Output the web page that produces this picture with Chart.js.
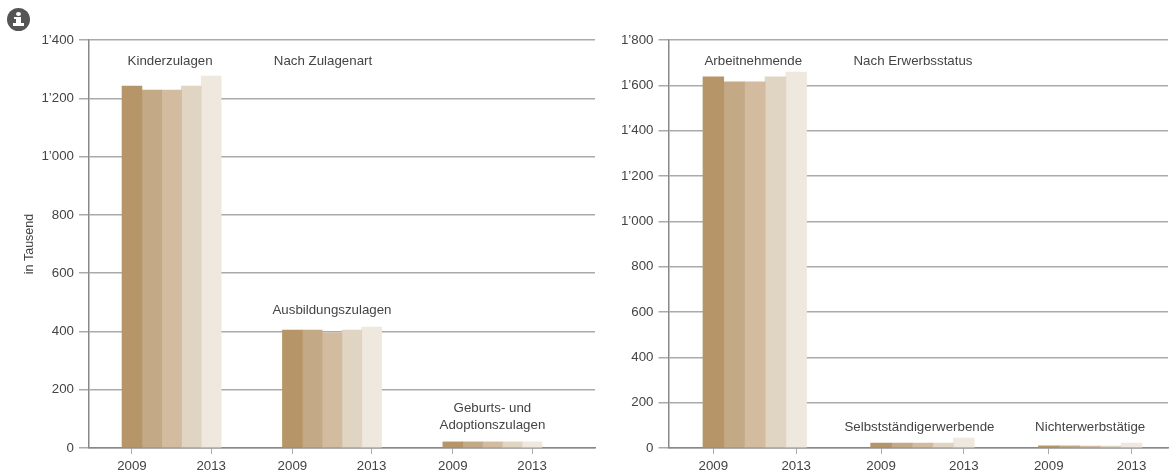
<!DOCTYPE html>
<html>
<head>
<meta charset="utf-8">
<style>
    html, body { margin: 0; padding: 0; background: #fff; }
    #page { position: relative; width: 1170px; height: 475px; overflow: hidden; }
    canvas { position: absolute; top: 0; }
    #info { position: absolute; left: 7px; top: 8px; width: 23px; height: 23px; border-radius: 50%; background: #555; }
    #info i { position: absolute; background: #fff; display: block; }
</style>
<script src="https://cdn.jsdelivr.net/npm/chart.js"></script>
</head>
<body>
<div id="page">
    <div id="info">
        <i style="left:9px;top:4px;width:5px;height:4px;border-radius:50%"></i>
        <i style="left:7px;top:9px;width:6px;height:2px"></i>
        <i style="left:9px;top:9px;width:5px;height:7px"></i>
        <i style="left:6px;top:15px;width:11px;height:3px"></i>
    </div>
    <canvas id="left" width="600" height="475" style="left:0"></canvas>
    <canvas id="right" width="570" height="475" style="left:600px"></canvas>
</div>
<script>
const years = ['2009', '2010', '2011', '2012', '2013'];
const tickYears = ['2009', '2013'];
const yearColors = ['#b69569', '#c3a985', '#d3bb9f', '#e0d4c2', '#efe8de'];

// Nach Zulagenart, in Tausend
const kinderzulagen = [1242, 1228, 1228, 1242, 1276];
const ausbildungszulagen = [405, 405, 395, 405, 415];
const geburtsAdoption = [21, 21, 21, 21, 21];

// Nach Erwerbsstatus, in Tausend
const arbeitnehmende = [1637, 1615, 1615, 1637, 1659];
const selbststaendige = [22, 22, 22, 22, 44];
const nichterwerbstaetige = [10, 10, 9, 9, 22];

const zulagenLabels = [['Kinderzulagen'], ['Ausbildungszulagen'], ['Geburts- und', 'Adoptionszulagen']];
const statusLabels = [['Arbeitnehmende'], ['Selbstständigerwerbende'], ['Nichterwerbstätige']];

const FONT = '"Liberation Sans", sans-serif';
const TEXT_COLOR = '#444';
const GROUP_STEP = 8.1; // 5 bars + gap, in bar widths

// draws the group captions and the "Nach ..." note
const captionPlugin = {
    id: 'captions',
    afterDraw(chart, args, opts) {
        const ctx = chart.ctx;
        const xs = chart.scales.x;
        ctx.save();
        ctx.font = '13.3px ' + FONT;
        ctx.fillStyle = TEXT_COLOR;
        ctx.textAlign = 'center';
        ctx.textBaseline = 'middle';
        opts.groups.forEach((lines, g) => {
            const cx = xs.getPixelForValue(g * GROUP_STEP + 2) + opts.shifts[g];
            lines.forEach((line, i) => {
                ctx.fillText(line, cx, opts.baselines[g] + i * 17);
            });
        });
        ctx.fillText(opts.note, opts.noteX, 61);
        ctx.restore();
    }
};

function makeChart(id, groups, cfg) {
    const datasets = years.map((year, y) => ({
        label: year,
        backgroundColor: yearColors[y],
        barThickness: cfg.barWidth,
        grouped: false,
        data: groups.map((values, g) => ({ x: g * GROUP_STEP + y, y: values[y] }))
    }));

    return new Chart(document.getElementById(id), {
        type: 'bar',
        data: { datasets: datasets },
        plugins: [captionPlugin],
        options: {
            responsive: false,
            animation: false,
            layout: { padding: { top: 40, right: cfg.paddingRight, left: 0, bottom: 0 } },
            scales: {
                x: {
                    type: 'linear',
                    offset: false,
                    min: cfg.xMin,
                    max: cfg.xMax,
                    afterBuildTicks(scale) {
                        const ticks = [];
                        groups.forEach((values, g) => {
                            ticks.push({ value: g * GROUP_STEP, label: tickYears[0] });
                            ticks.push({ value: g * GROUP_STEP + 4, label: tickYears[1] });
                        });
                        scale.ticks = ticks;
                    },
                    afterFit(scale) { scale.height = 27; },
                    grid: { offset: false, drawOnChartArea: false, drawTicks: true, tickLength: 6, color: '#aaa' },
                    border: { color: '#888', width: 1.5 },
                    ticks: {
                        autoSkip: false,
                        maxRotation: 0,
                        padding: 4,
                        color: TEXT_COLOR,
                        font: { family: FONT, size: 13.3 },
                        callback(value, index) {
                            return tickYears[index % 2];
                        }
                    }
                },
                y: {
                    min: 0,
                    max: cfg.yMax,
                    afterFit(scale) { scale.width = cfg.axisLeft; },
                    title: {
                        display: cfg.showTitle,
                        text: 'in Tausend',
                        color: TEXT_COLOR,
                        font: { family: FONT, size: 12.5 },
                        padding: { top: 22, bottom: 0 }
                    },
                    grid: { color: '#aaa', lineWidth: 1.5, tickLength: 10 },
                    border: { color: '#888', width: 1.5 },
                    ticks: {
                        stepSize: 200,
                        padding: 5,
                        color: TEXT_COLOR,
                        font: { family: FONT, size: 13.3 },
                        callback(value) {
                            return value >= 1000 ? Math.floor(value / 1000) + '’' + String(value % 1000).padStart(3, '0') : String(value);
                        }
                    }
                }
            },
            plugins: {
                legend: { display: false },
                tooltip: { enabled: false },
                captions: cfg.captions
            }
        }
    });
}

makeChart('left', [kinderzulagen, ausbildungszulagen, geburtsAdoption], {
    axisLeft: 89, paddingRight: 5,
    xMin: -2.17, xMax: 23.38, yMax: 1400, barWidth: 19.9, showTitle: true,
    captions: { groups: zulagenLabels, baselines: [61, 310, 408], shifts: [-1.5, 0, 0], note: 'Nach Zulagenart', noteX: 323 }
});

makeChart('right', [arbeitnehmende, selbststaendige, nichterwerbstaetige], {
    axisLeft: 68.5, paddingRight: 2,
    xMin: -2.167, xMax: 21.96, yMax: 1800, barWidth: 20.8, showTitle: false,
    captions: { groups: statusLabels, baselines: [61, 427, 427], shifts: [-1.5, -3, 0], note: 'Nach Erwerbsstatus', noteX: 313 }
});
</script>
</body>
</html>
